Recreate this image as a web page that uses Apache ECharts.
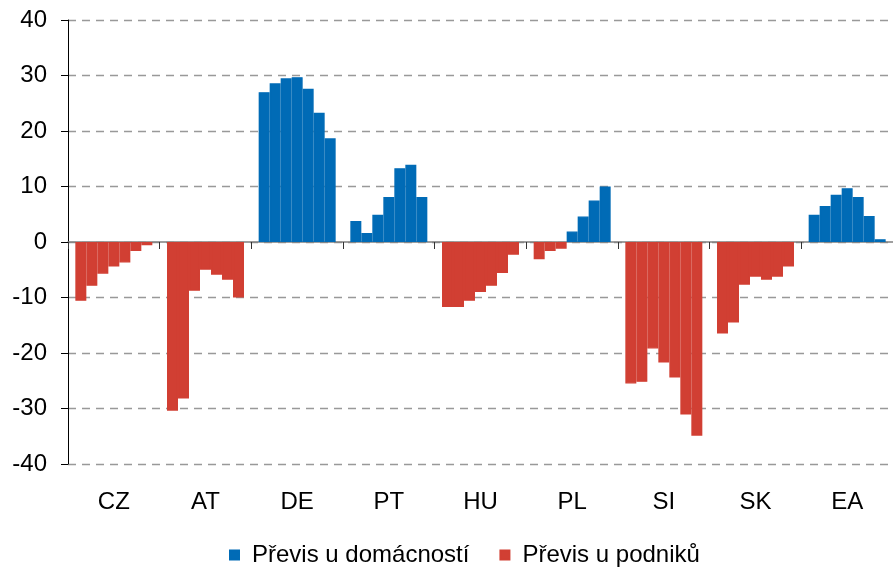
<!DOCTYPE html>
<html>
<head>
<meta charset="utf-8">
<script src="https://cdn.jsdelivr.net/npm/echarts@6/dist/echarts.min.js"></script>
<style>
  html, body { margin: 0; padding: 0; background: #fff; }
  #chart { width: 893px; height: 569px; }
</style>
</head>
<body>
<div id="chart"></div>
<script>
// země
const countries = ['CZ', 'AT', 'DE', 'PT', 'HU', 'PL', 'SI', 'SK', 'EA'];

// 7 období pro každou zemi, null = hodnota patří druhé řadě
const domacnosti = [
    [null, null, null, null, null, null, null],       // CZ
    [null, null, null, null, null, null, null],       // AT
    [27.0, 28.6, 29.5, 29.7, 27.6, 23.3, 18.7],       // DE
    [3.8, 1.6, 4.9, 8.1, 13.3, 13.9, 8.1],            // PT
    [null, null, null, null, null, null, null],       // HU
    [null, null, null, 1.9, 4.6, 7.5, 10.0],          // PL
    [null, null, null, null, null, null, null],       // SI
    [null, null, null, null, null, null, null],       // SK
    [4.9, 6.5, 8.5, 9.7, 8.1, 4.7, 0.5]               // EA
];

const podniky = [
    [-10.6, -7.9, -5.7, -4.4, -3.7, -1.6, -0.6],      // CZ
    [-30.4, -28.2, -8.8, -5.0, -5.9, -6.8, -10.0],    // AT
    [null, null, null, null, null, null, null],       // DE
    [null, null, null, null, null, null, null],       // PT
    [-11.7, -11.7, -10.6, -9.0, -7.9, -5.6, -2.3],    // HU
    [-3.1, -1.6, -1.2, null, null, null, null],       // PL
    [-25.5, -25.2, -19.2, -21.7, -24.4, -31.1, -34.9],// SI
    [-16.5, -14.5, -7.7, -6.25, -6.8, -6.25, -4.4],   // SK
    [null, null, null, null, null, null, null]        // EA
];

const yTicks = [-40, -30, -20, -10, 0, 10, 20, 30, 40];

const BLUE = '#006bb6';
const RED = '#d13f33';
const FONT = 'Liberation Sans, Arial, sans-serif';

const series = [];
for (let p = 0; p < 7; p++) {
    series.push({
        name: 'Převis u domácností',
        type: 'bar',
        stack: 'obdobi' + p,
        barGap: '0%',
        barCategoryGap: '16%',
        itemStyle: { color: BLUE, borderColor: BLUE, borderWidth: 1.4 },
        data: countries.map((c, i) => domacnosti[i][p])
    });
    series.push({
        name: 'Převis u podniků',
        type: 'bar',
        stack: 'obdobi' + p,
        barGap: '0%',
        barCategoryGap: '16%',
        itemStyle: { color: RED, borderColor: RED, borderWidth: 1.4 },
        data: countries.map((c, i) => podniky[i][p])
    });
}

const chart = echarts.init(document.getElementById('chart'));
chart.setOption({
    animation: false,
    backgroundColor: '#fff',
    grid: { left: 68, right: 0, top: 20, bottom: 105 },
    legend: {
        top: 538,
        left: 224,
        icon: 'rect',
        itemWidth: 9,
        itemHeight: 9,
        itemGap: 30,
        textStyle: { fontFamily: FONT, fontSize: 24, color: '#000', padding: [0, 0, 0, 8] },
        data: ['Převis u domácností', 'Převis u podniků']
    },
    xAxis: [
        {
            type: 'category',
            data: countries,
            axisLine: { onZero: true, lineStyle: { color: '#808080', width: 1.5 } },
            axisTick: { show: true, length: 7, lineStyle: { color: '#333' } },
            axisLabel: { show: false },
            splitLine: { show: false }
        },
        {
            type: 'category',
            data: countries,
            position: 'bottom',
            axisLine: { show: false, onZero: false },
            axisTick: { show: false },
            axisLabel: { margin: 26, fontFamily: FONT, fontSize: 24, color: '#000' },
            splitLine: { show: false }
        }
    ],
    yAxis: {
        type: 'value',
        min: yTicks[0],
        max: yTicks[yTicks.length - 1],
        interval: 10,
        axisLine: { show: true, lineStyle: { color: '#000' } },
        axisTick: { show: true, length: 7, lineStyle: { color: '#000' } },
        axisLabel: { margin: 21, fontFamily: FONT, fontSize: 24, color: '#000' },
        splitLine: { show: true, lineStyle: { color: '#999', type: [8, 6], width: 1.3 } }
    },
    series: series
});
</script>
</body>
</html>
